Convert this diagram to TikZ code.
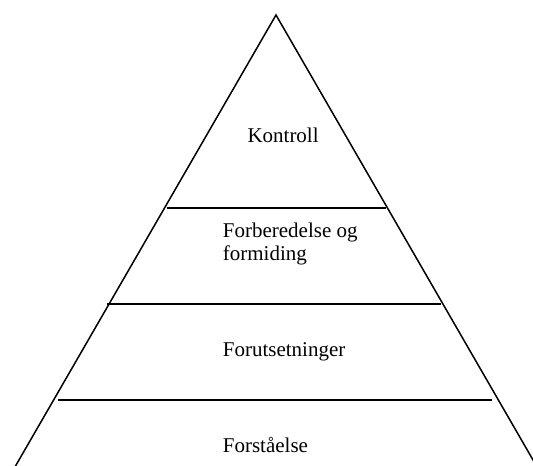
\documentclass[tikz,border=0pt]{standalone}
\usepackage{fontspec}
\setmainfont{Liberation Serif}
\begin{document}
\begin{tikzpicture}[x=1pt,y=1pt,
  edge/.style={line width=1.5pt,line cap=round},
  sep/.style={line width=1.8pt},
  lbl/.style={anchor=base west,inner sep=0pt,align=left,font=\fontsize{21}{22.7}\selectfont}]
\useasboundingbox (0,0) rectangle (533,466);
\coordinate (apex) at (276,451);
\coordinate (bl) at (15.5,0);
\coordinate (br) at (536.5,0);
\draw[edge] (bl) -- (apex) -- (br);
\coordinate (a1) at (167,258); \coordinate (a2) at (386,258);
\coordinate (b1) at (107,162); \coordinate (b2) at (441,162);
\coordinate (c1) at (58,66);   \coordinate (c2) at (492,66);
\draw[sep] (a1) -- (a2);
\draw[sep] (b1) -- (b2);
\draw[sep] (c1) -- (c2);
\node[lbl] (kon) at (247.3,323.7) {Kontroll};
\node[lbl] (forb) at (222.7,205.3) {Forberedelse og\\formiding};
\node[lbl] (foru) at (222.7,109.3) {Forutsetninger};
\node[lbl] (fors) at (222.7,13.7) {Forståelse};
\end{tikzpicture}
\end{document}
